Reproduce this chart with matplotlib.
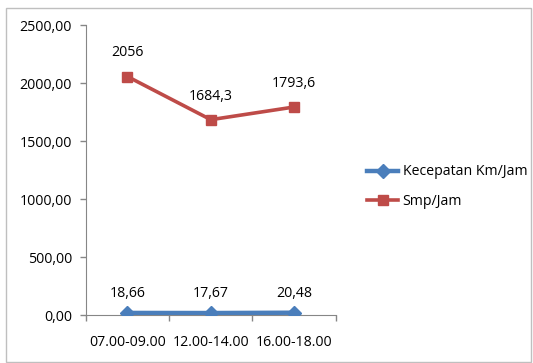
import matplotlib
matplotlib.use("Agg")
import matplotlib.pyplot as plt
from matplotlib.patches import Rectangle
from matplotlib.ticker import FuncFormatter

periods = ["07.00-09.00", "12.00-14.00", "16.00-18.00"]
kecepatan = [18.66, 17.67, 20.48]
smp = [2056, 1684.3, 1793.6]
kecepatan_labels = ["18,66", "17,67", "20,48"]
smp_labels = ["2056", "1684,3", "1793,6"]

plt.rcParams['font.family'] = ['Open Sans', 'DejaVu Sans']
plt.rcParams['font.size'] = 10.2

fig = plt.figure(figsize=(5.33, 3.63), dpi=100)
fig.patches.append(Rectangle((0.011, 0.003), 0.985, 0.975, transform=fig.transFigure,
                             fill=False, edgecolor='#bfbfbf', linewidth=1.0))
ax = fig.add_axes([0.161, 0.132, 0.469, 0.799])

x = list(range(len(periods)))
ax.plot(x, kecepatan, color='#4a7ebb', lw=3.2, marker='D', ms=7,
        label='Kecepatan Km/Jam', zorder=3)
ax.plot(x, smp, color='#be4b48', lw=2.6, marker='s', ms=7.5,
        label='Smp/Jam', zorder=3)

for xi, v, t in zip(x, kecepatan, kecepatan_labels):
    ax.annotate(t, (xi, v), xytext=(0, 14), textcoords='offset points',
                ha='center', va='center')
for xi, v, t in zip(x, smp, smp_labels):
    ax.annotate(t, (xi, v), xytext=(0, 17), textcoords='offset points',
                ha='center', va='center')

ax.set_xlim(-0.5, 2.5)
ax.set_ylim(0, 2500)
ax.set_yticks(range(0, 2501, 500))
ax.yaxis.set_major_formatter(FuncFormatter(lambda v, p: f"{v:.2f}".replace('.', ',')))
ax.set_xticks([-0.5, 0.5, 1.5, 2.5])
ax.set_xticklabels([])
ax.set_xticks(x, minor=True)
ax.set_xticklabels(periods, minor=True)
ax.tick_params(axis='x', which='minor', length=0, pad=14)
ax.tick_params(axis='both', which='major', length=4, color='#868686', width=1)
ax.tick_params(axis='y', pad=6)

for s in ['top', 'right']:
    ax.spines[s].set_visible(False)
for s in ['left', 'bottom']:
    ax.spines[s].set_color('#868686')
ax.spines['bottom'].set_zorder(1)

fig.legend(loc='upper left', bbox_to_anchor=(0.665, 0.582), frameon=False,
           handlelength=2.2, labelspacing=1.0, handletextpad=0.3)

fig.savefig('out.png', dpi=100)
